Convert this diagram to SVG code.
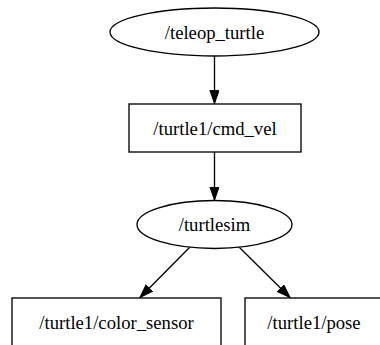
<svg xmlns="http://www.w3.org/2000/svg" width="380" height="345" viewBox="0 0 380 345">
<style>
.n{fill:#fff;stroke:#000;stroke-width:1.33}
.t{font-family:"Liberation Serif","Times New Roman",serif;font-size:18.67px;text-anchor:middle;fill:#000}
.e{stroke:#000;stroke-width:1.33;fill:none;marker-end:url(#ah)}
</style>
<defs>
<marker id="ah" markerUnits="userSpaceOnUse" markerWidth="14" markerHeight="10" refX="13.3" refY="4.67" orient="auto">
<path d="M0,0 L13.3,4.67 L0,9.33 z" fill="#000" stroke="#000" stroke-width="1"/>
</marker>
</defs>
<rect width="380" height="345" fill="#fff"/>
<g id="connectors">
<line class="e" x1="214.5" y1="56" x2="214.5" y2="103.5"/>
<line class="e" x1="214.5" y1="152" x2="214.5" y2="200"/>
<line class="e" x1="190" y1="247" x2="140" y2="297.5"/>
<line class="e" x1="239" y1="247" x2="290" y2="297.5"/>
</g>
<g id="teleop_turtle">
<ellipse class="n" cx="214.5" cy="32" rx="104.5" ry="24"/>
<text class="t" x="214.5" y="38.5">/teleop_turtle</text>
</g>
<g id="cmd_vel">
<rect class="n" x="129" y="104" width="172" height="48"/>
<text class="t" x="215" y="134.5">/turtle1/cmd_vel</text>
</g>
<g id="turtlesim">
<ellipse class="n" cx="214.5" cy="224.5" rx="77.5" ry="24"/>
<text class="t" x="214.5" y="231">/turtlesim</text>
</g>
<g id="color_sensor">
<rect class="n" x="12" y="298" width="209" height="48"/>
<text class="t" x="116.5" y="328.5">/turtle1/color_sensor</text>
</g>
<g id="pose">
<rect class="n" x="245" y="298" width="138" height="48"/>
<text class="t" x="314" y="328.5">/turtle1/pose</text>
</g>
</svg>
